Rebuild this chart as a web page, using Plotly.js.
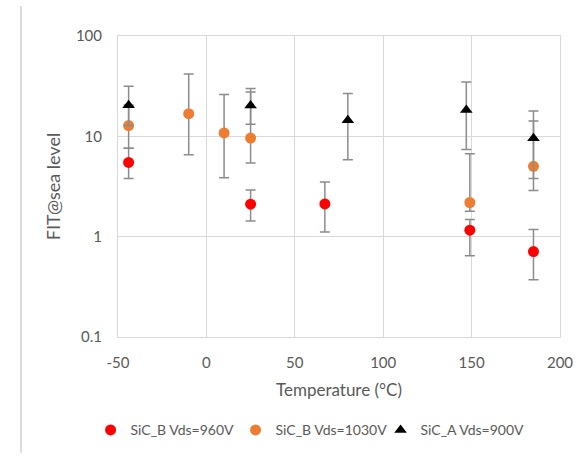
<!DOCTYPE html>
<html>
<head>
<meta charset="utf-8">
<script src="https://cdn.plot.ly/plotly-3.0.1.min.js"></script>
<style>html,body{margin:0;padding:0;background:#fff;}#chart{width:582px;height:458px;}</style>
</head>
<body>
<div id="chart"></div>
<script>
// SiC_B Vds=960V
const redTemp = [-44, 25, 67, 149, 185];
const redFit  = [5.5, 2.11, 2.12, 1.16, 0.71];
const redHi   = [7.6, 2.92, 3.5, 1.48, 1.18];
const redLo   = [3.8, 1.43, 1.11, 0.646, 0.372];
// SiC_B Vds=1030V
const orgTemp = [-44, -10, 10, 25, 149, 185];
const orgFit  = [12.8, 16.8, 10.8, 9.6, 2.19, 5.02];
const orgHi   = [20.5, 41.9, 26.1, 27.7, 6.7, 14.2];
const orgLo   = [7.6, 6.55, 3.87, 5.42, 1.79, 2.88];
// SiC_A Vds=900V
const blkTemp = [-44, 25, 80, 147, 185];
const blkFit  = [20.4, 20.3, 14.5, 18.3, 9.56];
const blkHi   = [31.5, 29.9, 26.8, 34.7, 17.9];
const blkLo   = [12.8, 13.2, 5.85, 7.4, 3.8];

const names = ['SiC_B Vds=960V', 'SiC_B Vds=1030V', 'SiC_A Vds=900V'];
const yTicks = [0.1, 1, 10, 100];
const yTickText = ['0.1', '1', '10', '100'];
const xTicks = [-50, 0, 50, 100, 150, 200];
const xTickText = ['-50', '0', '50', '100', '150', '200'];

function mk(x, y, hi, lo, name, color, symbol) {
  return {
    x: x, y: y, name: name, type: 'scatter', mode: 'markers',
    marker: {color: color, size: 11, symbol: symbol},
    error_y: {
      type: 'data', symmetric: false,
      array: y.map((v, i) => hi[i] - v),
      arrayminus: y.map((v, i) => v - lo[i]),
      color: '#8c8c8c', thickness: 1.5, width: 5
    }
  };
}

const data = [
  mk(redTemp, redFit, redHi, redLo, names[0], '#ff0000', 'circle'),
  mk(orgTemp, orgFit, orgHi, orgLo, names[1], '#ed7d31', 'circle'),
  mk(blkTemp, blkFit, blkHi, blkLo, names[2], '#000000', 'triangle-up')
];

const gridC = '#d9d9d9';
const textC = '#595959';
const layout = {
  width: 582, height: 458,
  margin: {l: 118, r: 22, t: 36, b: 117},
  paper_bgcolor: '#fff', plot_bgcolor: '#fff',
  font: {family: 'Lato, "Open Sans", sans-serif', color: textC, size: 14},
  showlegend: true,
  legend: {orientation: 'h', x: 0.43, xanchor: 'center', y: -0.31, yanchor: 'middle',
           font: {size: 14, color: textC}, itemwidth: 30, tracegroupgap: 0,
           entrywidth: 100, entrywidthmode: 'pixels'},
  xaxis: {
    range: [-50, 200], tickvals: xTicks, ticktext: xTickText, automargin: false,
    showgrid: true, gridcolor: gridC, gridwidth: 1,
    zeroline: false, showline: true, linecolor: gridC, mirror: true,
    ticks: 'outside', ticklen: 12, tickcolor: 'rgba(0,0,0,0)',
    tickfont: {size: 15, color: textC},
    title: {text: 'Temperature (°C)', font: {size: 17, color: textC}, standoff: 14}
  },
  yaxis: {
    type: 'log', range: [-1, 2], automargin: false,
    tickvals: yTicks, ticktext: yTickText,
    showgrid: true, gridcolor: gridC, gridwidth: 1,
    zeroline: false, showline: true, linecolor: gridC, mirror: true,
    ticks: 'outside', ticklen: 12, tickcolor: 'rgba(0,0,0,0)',
    tickfont: {size: 15, color: textC},
    title: {text: 'FIT@sea level', font: {size: 18, color: textC}, standoff: 10}
  },
  shapes: [{
    type: 'line', xref: 'paper', yref: 'paper',
    x0: -0.2195, x1: -0.2195, y0: 1.10, y1: -0.3836,
    line: {color: '#d0d0d0', width: 1.5}
  }]
};

Plotly.newPlot('chart', data, layout, {displayModeBar: false, staticPlot: true});
</script>
</body>
</html>
